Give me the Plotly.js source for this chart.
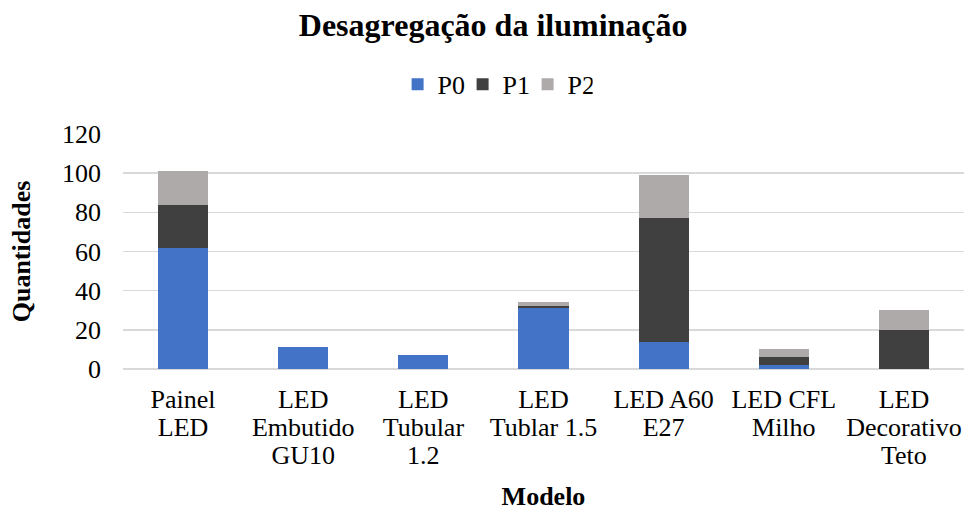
<!DOCTYPE html>
<html><head><meta charset="utf-8">
<script src="https://cdn.plot.ly/plotly-3.0.1.min.js"></script>
<style>body{margin:0;background:#fff}#c{width:967px;height:511px}</style>
</head><body><div id="c"></div>
<script>
var categories = ["Painel<br>LED","LED<br>Embutido<br>GU10","LED<br>Tubular<br>1.2","LED<br>Tublar 1.5","LED A60<br>E27","LED CFL<br>Milho","LED<br>Decorativo<br>Teto"];
var p0 = [62, 11, 7, 31, 14, 2, 0];
var p1 = [22, 0, 0, 1, 63, 4, 20];
var p2 = [17, 0, 0, 2, 22, 4, 10];
var seriesNames = ["P0","P1","P2"];
var colors = ["#4373c7","#404040","#aeaaaa"];
var yTicks = [0,20,40,60,80,100,120];

var font = "Liberation Serif, Times New Roman, serif";
var data = [p0,p1,p2].map(function(v,i){
  return {type:"bar", x:categories, y:v, name:seriesNames[i], marker:{color:colors[i]}};
});
var layout = {
  width:967, height:511, barmode:"stack", bargap:0.583,
  paper_bgcolor:"#fff", plot_bgcolor:"#fff",
  font:{family:font, color:"#000", size:26},
  margin:{l:123, r:3, t:134, b:142},
  title:{text:"<b>Desagregação da iluminação</b>", font:{size:32, family:font}, x:0.51, xref:"container", xanchor:"center", y:0.952, yref:"container", yanchor:"middle"},
  legend:{orientation:"h", x:0.512, xref:"container", xanchor:"center", y:0.835, yref:"container", yanchor:"middle", font:{size:26}, traceorder:"normal", itemwidth:30, entrywidth:20},
  xaxis:{tickfont:{size:26}, showgrid:false, showline:false, ticks:"", ticklabelstandoff:12, title:{text:"<b>Modelo</b>", font:{size:26}, standoff:6}, automargin:false},
  yaxis:{range:[0,120], tickvals:yTicks, tickfont:{size:26}, gridcolor:"#d9d9d9", gridwidth:1.5, zeroline:true, zerolinecolor:"#d9d9d9", zerolinewidth:1.5, showline:false, ticks:"", ticklabelstandoff:21, title:{text:"<b>Quantidades</b>", font:{size:26}, standoff:23}, automargin:false}
};
Plotly.newPlot("c", data, layout, {displayModeBar:false, staticPlot:true}).then(function(gd){
  // tighter line spacing for multi-line category labels, like the original
  var spans = gd.querySelectorAll(".xtick text tspan.line");
  spans.forEach(function(s){
    var dy = s.getAttribute("dy");
    if (dy && dy.indexOf("em") > 0) {
      var v = parseFloat(dy);
      s.setAttribute("dy", (v*0.83) + "em");
    }
  });
});
</script></body></html>
